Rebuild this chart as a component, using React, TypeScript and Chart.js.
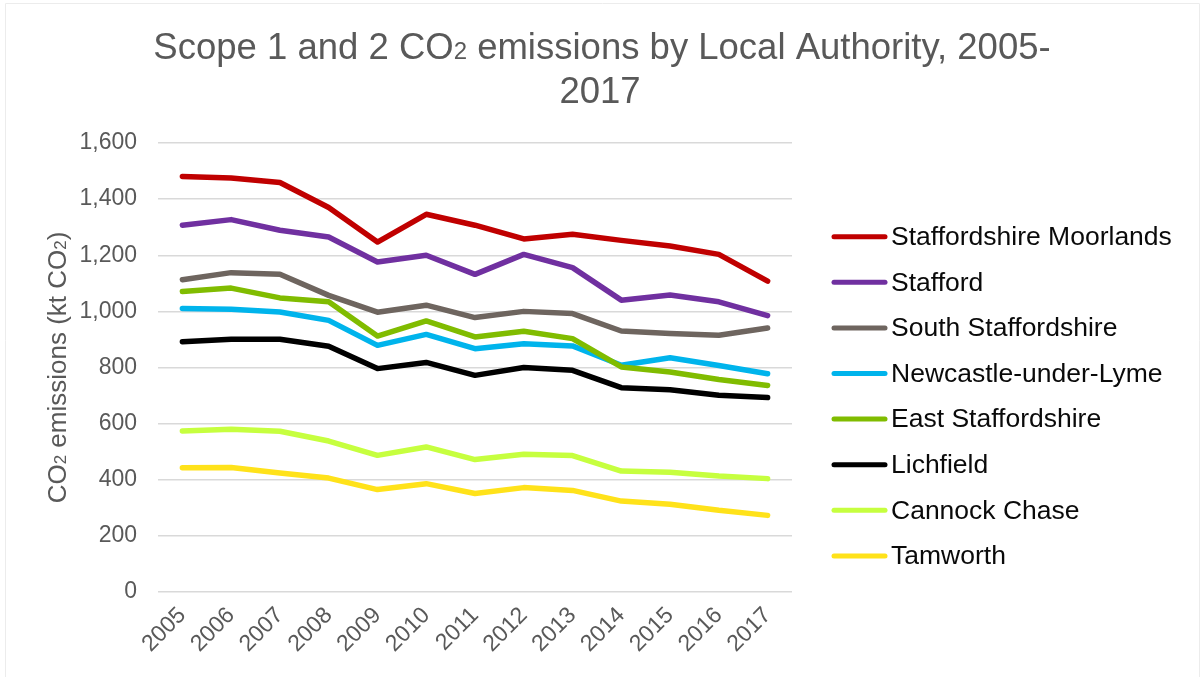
import React, { useEffect, useRef } from "react";
import { Chart, registerables } from "chart.js";

Chart.register(...registerables);

const years = ["2005", "2006", "2007", "2008", "2009", "2010", "2011", "2012", "2013", "2014", "2015", "2016", "2017"];

const moorlands = [1481, 1475, 1459, 1370, 1247, 1346, 1307, 1258, 1275, 1253, 1233, 1203, 1108];
const stafford = [1307, 1327, 1289, 1265, 1176, 1200, 1132, 1203, 1156, 1040, 1058, 1034, 985];
const southStaffs = [1113, 1138, 1132, 1057, 997, 1022, 978, 1000, 992, 930, 921, 915, 941];
const newcastle = [1010, 1008, 998, 968, 879, 918, 867, 885, 877, 808, 835, 807, 778];
const eastStaffs = [1071, 1083, 1048, 1034, 912, 966, 909, 929, 903, 802, 784, 757, 736];
const lichfield = [892, 901, 901, 876, 796, 818, 772, 800, 790, 728, 721, 701, 693];
const cannock = [574, 580, 573, 538, 487, 517, 472, 491, 486, 431, 427, 413, 404];
const tamworth = [443, 444, 424, 406, 365, 386, 351, 372, 362, 324, 313, 291, 273];

const seriesNames = [
  "Staffordshire Moorlands",
  "Stafford",
  "South Staffordshire",
  "Newcastle-under-Lyme",
  "East Staffordshire",
  "Lichfield",
  "Cannock Chase",
  "Tamworth",
];
const seriesValues = [moorlands, stafford, southStaffs, newcastle, eastStaffs, lichfield, cannock, tamworth];
const seriesColors = ["#C00000", "#7030A0", "#6E655F", "#00B4EC", "#80BC00", "#000000", "#C6FF3F", "#FFE21A"];

const yTicks = [0, 200, 400, 600, 800, 1000, 1200, 1400, 1600];

const FONT = '"Liberation Sans", Arial, Helvetica, sans-serif';

type Part = { t: string; s: number };

function drawRich(ctx: CanvasRenderingContext2D, parts: Part[], cx: number, baseline: number) {
  let total = 0;
  const widths = parts.map((p) => {
    ctx.font = `${p.s}px ${FONT}`;
    const w = ctx.measureText(p.t).width;
    total += w;
    return w;
  });
  let x = cx - total / 2;
  ctx.textAlign = "left";
  ctx.textBaseline = "alphabetic";
  parts.forEach((p, i) => {
    ctx.font = `${p.s}px ${FONT}`;
    ctx.fillText(p.t, x, baseline);
    x += widths[i];
  });
}

const decorPlugin = {
  id: "decor",
  afterDraw(chart: any) {
    const ctx: CanvasRenderingContext2D = chart.ctx;
    ctx.save();
    // faint outer border
    ctx.strokeStyle = "#ececec";
    ctx.lineWidth = 1;
    ctx.beginPath();
    ctx.moveTo(5.5, 677);
    ctx.lineTo(5.5, 3.5);
    ctx.lineTo(1199.5, 3.5);
    ctx.lineTo(1199.5, 677);
    ctx.stroke();

    // title
    ctx.fillStyle = "#595959";
    drawRich(
      ctx,
      [
        { t: "Scope 1 and 2 CO", s: 36.5 },
        { t: "2", s: 24 },
        { t: " emissions by Local Authority, 2005-", s: 36.5 },
      ],
      602,
      59
    );
    drawRich(ctx, [{ t: "2017", s: 36.5 }], 600, 103);

    // y axis title
    const area = chart.chartArea;
    ctx.save();
    ctx.translate(66, (area.top + area.bottom) / 2);
    ctx.rotate(-Math.PI / 2);
    ctx.fillStyle = "#595959";
    drawRich(
      ctx,
      [
        { t: "CO", s: 26 },
        { t: "2", s: 17 },
        { t: " emissions (kt CO", s: 26 },
        { t: "2", s: 17 },
        { t: ")", s: 26 },
      ],
      0,
      0
    );
    ctx.restore();

    // legend
    const startY = 236.7;
    const step = 45.6;
    seriesNames.forEach((name, i) => {
      const y = startY + i * step;
      ctx.strokeStyle = seriesColors[i];
      ctx.lineWidth = 5;
      ctx.lineCap = "round";
      ctx.beginPath();
      ctx.moveTo(834, y);
      ctx.lineTo(885, y);
      ctx.stroke();
      ctx.fillStyle = "#0a0a0a";
      ctx.font = `26.5px ${FONT}`;
      ctx.textAlign = "left";
      ctx.textBaseline = "middle";
      ctx.fillText(name, 891, y + 1);
    });
    ctx.restore();
  },
};

export default function App() {
  const canvasRef = useRef<HTMLCanvasElement | null>(null);

  useEffect(() => {
    document.body.style.margin = "0";
    const canvas = canvasRef.current;
    if (!canvas) return;
    const chart = new Chart(canvas, {
      type: "line",
      data: {
        labels: years,
        datasets: seriesNames.map((name, i) => ({
          label: name,
          data: seriesValues[i],
          borderColor: seriesColors[i],
          backgroundColor: seriesColors[i],
          borderWidth: 5.5,
          pointRadius: 0,
          pointHoverRadius: 0,
          tension: 0,
          fill: false,
          borderCapStyle: "round" as const,
          borderJoinStyle: "round" as const,
          order: -i,
        })),
      },
      options: {
        responsive: false,
        animation: false,
        events: [],
        layout: { padding: { top: 143, right: 408, bottom: 0, left: 0 } },
        plugins: {
          legend: { display: false },
          title: { display: false },
          tooltip: { enabled: false },
        },
        scales: {
          x: {
            type: "category",
            offset: true,
            grid: { display: false, drawTicks: false },
            border: { display: false },
            ticks: {
              minRotation: 45,
              maxRotation: 45,
              autoSkip: false,
              padding: 10,
              color: "#595959",
              font: { family: FONT, size: 23 },
            },
            afterFit: (scale: any) => {
              scale.height = 677 - 592;
            },
          },
          y: {
            min: 0,
            max: 1600,
            afterBuildTicks: (scale: any) => {
              scale.ticks = yTicks.map((v) => ({ value: v }));
            },
            grid: { color: "#d9d9d9", lineWidth: 1.5, drawTicks: false },
            border: { display: false },
            ticks: {
              padding: 21,
              color: "#595959",
              font: { family: FONT, size: 23 },
              callback: (v: any) => Number(v).toLocaleString("en-US"),
            },
            afterFit: (scale: any) => {
              scale.width = 158;
            },
          },
        },
      },
      plugins: [decorPlugin],
    });
    return () => chart.destroy();
  }, []);

  return (
    <div style={{ width: 1200, height: 677, position: "relative", background: "#fff" }}>
      <canvas ref={canvasRef} width={1200} height={677} style={{ display: "block" }} />
    </div>
  );
}
